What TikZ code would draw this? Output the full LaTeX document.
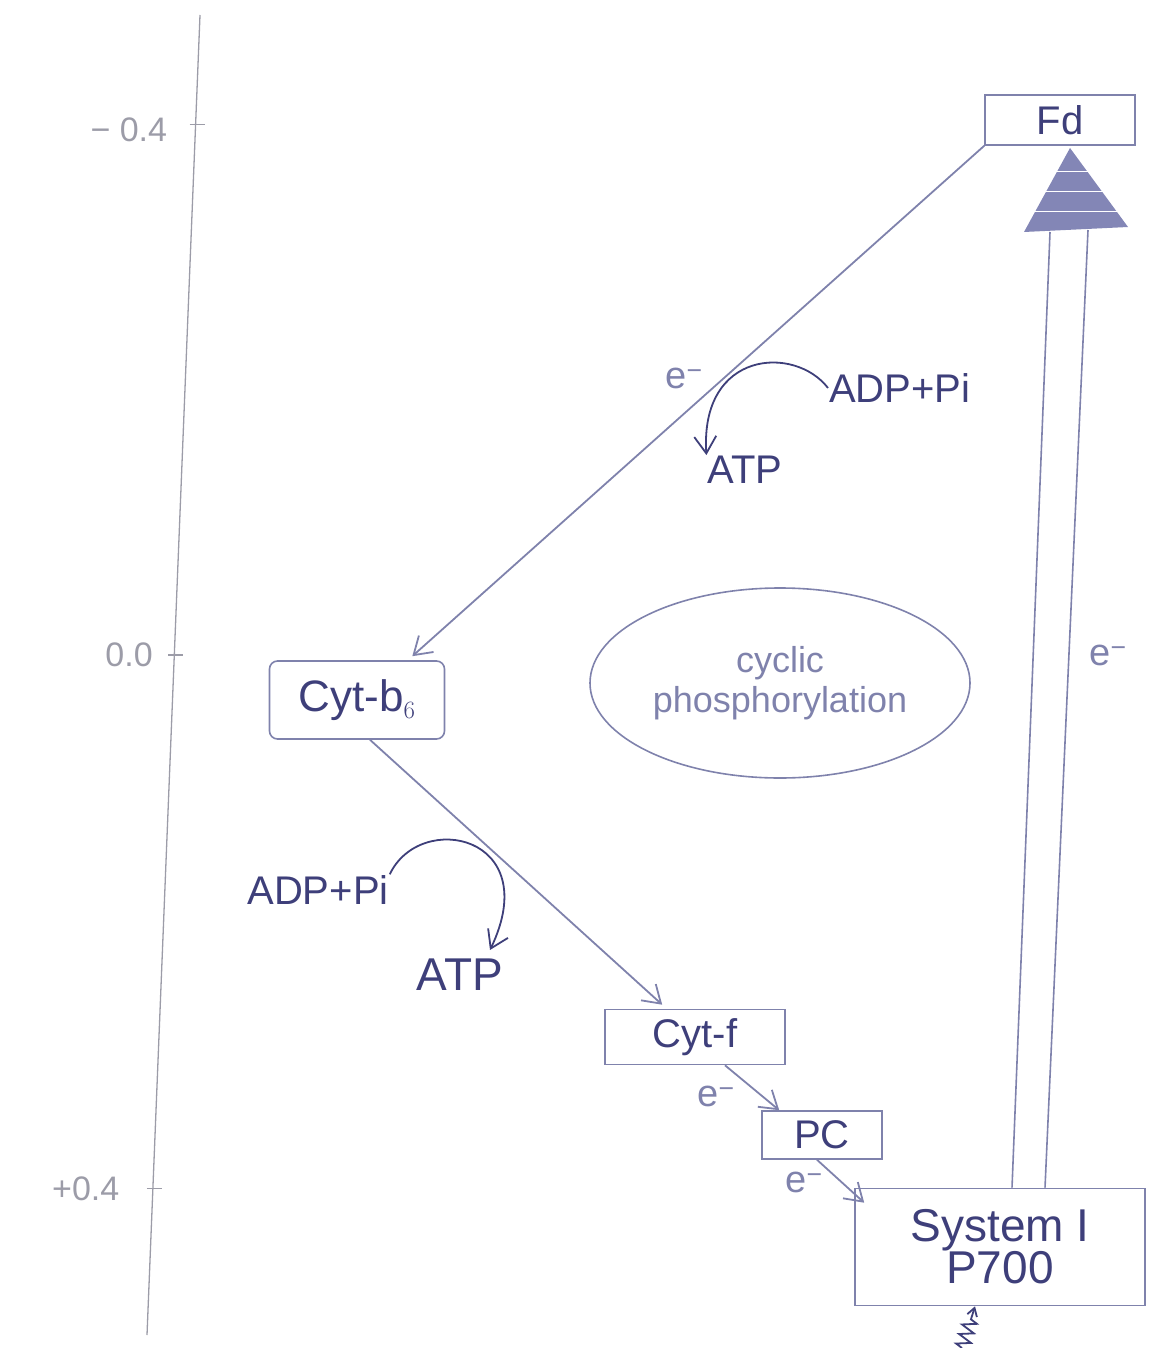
\documentclass[tikz,border=0pt]{standalone}
\usepackage{fontspec}
\setmainfont{Liberation Sans}
\usetikzlibrary{positioning, arrows.meta, calc, shapes.geometric, decorations.pathmorphing}
\definecolor{penink}{HTML}{3E3F7A}
\definecolor{penline}{HTML}{7F82AC}
\definecolor{axisgray}{HTML}{9C9CA8}
\definecolor{trifill}{HTML}{5A5E9E}

\begin{document}
\begin{tikzpicture}[
    x=1pt, y=-1pt,
    >={Straight Barb[length=17pt, width=22pt]},
    font=\fontsize{40}{44}\selectfont,
    carrier/.style={
        draw=penline, line width=1.6pt, text=penink,
        align=center, inner sep=4pt,
    },
    flow/.style={
        ->, draw=penline, line width=1.8pt,
    },
    turn/.style={
        ->, draw=penink, line width=1.8pt,
    },
    elabel/.style={
        text=penline, font=\fontsize{38}{42}\selectfont,
    },
    handlabel/.style={
        text=penink, inner sep=1pt,
    },
    scalelabel/.style={
        text=axisgray, font=\fontsize{34}{38}\selectfont, anchor=east,
    },
]
\useasboundingbox (0,0) rectangle (1160,1348);

% Potential axis (left)
\coordinate (axtop) at (200,15);
\coordinate (axbot) at (147,1335);
\draw[axisgray, line width=1.3pt] (axtop) -- (axbot);
\coordinate (tickneg) at ($(axtop)!0.083!(axbot)$);
\coordinate (tickzero) at ($(axtop)!0.485!(axbot)$);
\coordinate (tickpos) at ($(axtop)!0.889!(axbot)$);
\foreach \t in {tickneg, tickzero, tickpos}
    \draw[axisgray, line width=1.8pt] ($(\t)+(-6,0)$) -- ($(\t)+(9,0)$);
\node[scalelabel] (lneg) at ($(tickneg)+(-25,5)$) {− 0.4};
\node[scalelabel] (lzero) at ($(tickzero)+(-18,0)$) {0.0};
\node[scalelabel] (lpos) at ($(tickpos)+(-30,0)$) {+0.4};

% Carriers
\node[carrier, minimum width=150, minimum height=50] (fd) at (1060,120) {Fd};
\node[carrier, rounded corners=8pt, minimum width=175, minimum height=78,
      font=\fontsize{44}{48}\selectfont] (cytb) at (357,700) {Cyt-b$_6$};
\node[carrier, minimum width=180, minimum height=55] (cytf) at (695,1037) {Cyt-f};
\node[carrier, minimum width=120, minimum height=48] (pc) at (822,1135) {PC};
\node[carrier, minimum width=290, minimum height=117,
      font=\fontsize{46}{48}\selectfont] (sys) at (1000,1247)
    {System I\\[-6pt]P700};

% Reaction centre trunk and shaded head
\coordinate (trunkL) at (1050,232);
\coordinate (trunkR) at (1088,230);
\coordinate (tritop) at (1070,148);
\fill[trifill!75] (1024,232) -- (tritop) -- (1128,227) -- cycle;
\foreach \h in {172, 192, 212}
    \draw[white, line width=1pt] (1030,\h) -- (1120,\h);
\draw[penline, line width=1.6pt] ($(sys.north)+(12,0)$) -- (trunkL);
\draw[penline, line width=1.6pt] ($(sys.north)+(45,0)$) -- (trunkR);
\node[elabel] (eup) at (1108,655) {e\textsuperscript{−}};

% Cyclic electron path
\draw[flow] (fd.south west) -- ($(cytb.north east)+(-33,-4)$);
\node[elabel] (efd) at (684,378) {e\textsuperscript{−}};
\draw[flow] ($(cytb.south)+(13,0)$) -- ($(cytf.north west)+(58,-4)$);
\draw[flow] ($(cytf.south)+(30,0)$) -- ($(pc.north west)+(18,0)$);
\node[elabel] (ef) at (716,1096) {e\textsuperscript{−}};
\draw[flow] ($(pc.south)+(-5,0)$) -- ($(sys.north west)+(10,15)$);
\node[elabel] (epc) at (804,1182) {e\textsuperscript{−}};

% Photophosphorylation sites
\node[handlabel, anchor=west] (adpa) at (828,388) {ADP+Pi};
\node[handlabel] (atpa) at (745,470) {ATP};
\draw[turn] (adpa.west) .. controls (795,345) and (700,350) .. (atpa.north west);

\node[handlabel] (adpb) at (318,890) {ADP+Pi};
\node[handlabel, font=\fontsize{46}{50}\selectfont] (atpb) at (460,975) {ATP};
\draw[turn] (adpb.north east) .. controls (420,810) and (545,835) .. ($(atpb.north)+(30,-8)$);

% Cycle label
\node[draw=penline, line width=1.6pt, ellipse, text=penline, align=center,
      minimum width=380, minimum height=190, inner sep=0pt,
      font=\fontsize{36}{40}\selectfont] (cycle) at (780,683)
    {cyclic\\phosphorylation};

% Light into P700
\coordinate (light) at (962,1348);
\draw[penink, line width=1.8pt, -{Straight Barb[length=8pt, width=10pt]},
      decorate, decoration={zigzag, amplitude=7pt, segment length=10pt, post length=10pt}]
    (light) -- ($(sys.south)+(-25,0)$);

\end{tikzpicture}
\end{document}
